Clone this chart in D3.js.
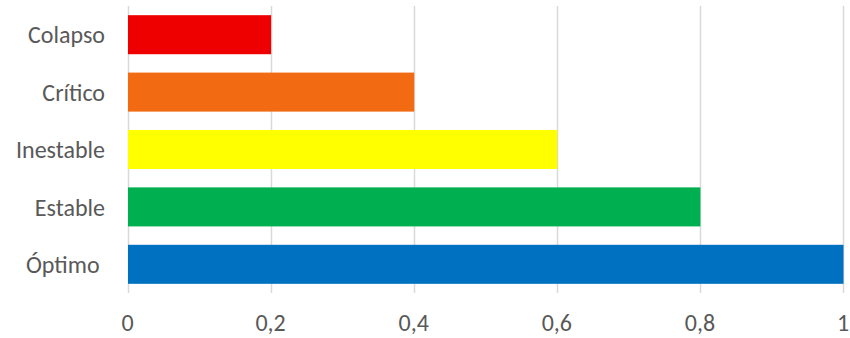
<!DOCTYPE html>
<html>
<head>
<meta charset="utf-8">
<script src="https://cdn.jsdelivr.net/npm/d3@7"></script>
<style>
  html, body { margin: 0; padding: 0; background: #fff; }
  svg text { font-family: Carlito, Calibri, Lato, "Open Sans", sans-serif; fill: #595959; white-space: pre; }
</style>
</head>
<body>
<svg id="chart" width="850" height="338"></svg>
<script>
const categories = ["Colapso", "Crítico", "Inestable", "Estable", "Óptimo "];
const values = [0.2, 0.4, 0.6, 0.8, 1.0];
const colors = ["#ee0000", "#f26b12", "#ffff00", "#00b050", "#0070c0"];
const tickValues = [0, 0.2, 0.4, 0.6, 0.8, 1];
const tickLabels = ["0", "0,2", "0,4", "0,6", "0,8", "1"];

const svg = d3.select("#chart");
const x = d3.scaleLinear().domain([0, 1]).range([127.5, 843]);
const y = d3.scaleBand().domain(categories).range([6, 293]).paddingInner(0.32).paddingOuter(0.16);

// gridlines
svg.append("g").selectAll("line").data(tickValues).join("line")
  .attr("x1", d => Math.round(x(d)) + 0.5).attr("x2", d => Math.round(x(d)) + 0.5)
  .attr("y1", 6).attr("y2", 293)
  .attr("stroke", "#d9d9d9").attr("stroke-width", 1.5);

// bars
svg.append("g").selectAll("rect").data(values).join("rect")
  .attr("x", x(0) + 0.5)
  .attr("y", (d, i) => y(categories[i]))
  .attr("width", d => x(d) - x(0))
  .attr("height", y.bandwidth())
  .attr("fill", (d, i) => colors[i]);

// x tick labels
svg.append("g").selectAll("text").data(tickValues).join("text")
  .attr("x", d => x(d)).attr("y", 331)
  .attr("text-anchor", "middle")
  .style("font-size", "24px")
  .text((d, i) => tickLabels[i]);

// category labels
svg.append("g").selectAll("text").data(categories).join("text")
  .attr("x", 105).attr("y", d => y(d) + y.bandwidth() / 2)
  .attr("dy", "0.36em")
  .attr("text-anchor", "end")
  .style("font-size", "24px")
  .text(d => d);
</script>
</body>
</html>
